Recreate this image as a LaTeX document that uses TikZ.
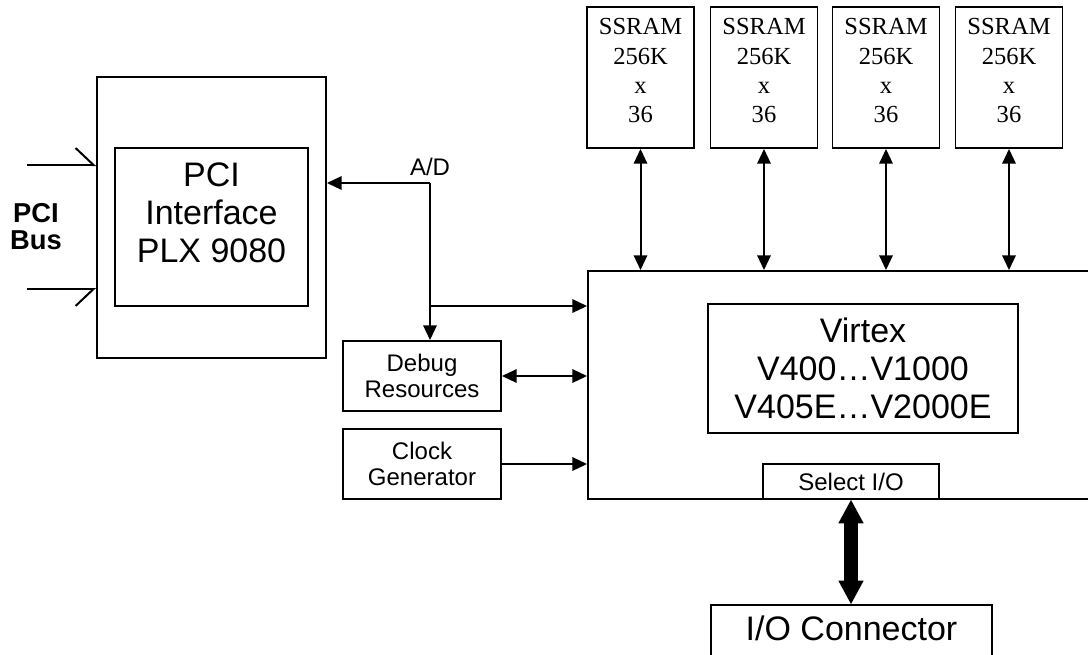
\documentclass[tikz,border=0pt]{standalone}
\usepackage{fontspec}
\setmainfont{Liberation Serif}
\setsansfont{Liberation Sans}
\usepackage{tikz}
\usetikzlibrary{positioning, arrows.meta}

\begin{document}
\begin{tikzpicture}[
  x=0.75pt, y=-0.75pt, line width=1.5pt,
  every node/.style={font=\sffamily},
  box/.style={draw, line width=1.4pt, inner sep=0pt, align=center},
  bigtext/.style={font=\sffamily\fontsize{25.5}{28.5}\selectfont},
  smalltext/.style={font=\sffamily\fontsize{18}{19.5}\selectfont},
  ramtext/.style={font=\rmfamily\fontsize{18.4}{22}\selectfont},
  ssram/.style={box, minimum width=80.25pt, minimum height=105.75pt},
  arr/.style={-{Triangle[length=11pt, width=10pt]}},
  biarr/.style={{Triangle[length=11pt, width=10pt]}-{Triangle[length=11pt, width=10pt]}},
  busin/.style={-{Straight Barb[harpoon, length=13.5pt, width=25.5pt]}},
  businb/.style={-{Straight Barb[harpoon, swap, length=13.5pt, width=25.5pt]}},
  fatarr/.style={line width=10.5pt,
    {Triangle[length=17.5pt, width=19pt, line width=0pt]}-{Triangle[length=17.5pt, width=19pt, line width=0pt]}}
]
  \useasboundingbox (0,0) rectangle (1088,654);
  \clip (0,0) rectangle (1088,654);

  % PCI side
  \node[box, minimum width=171.75pt, minimum height=210.75pt] (pcibox) at (211.5,217.5) {};
  \node[box, minimum width=144.75pt, minimum height=118.5pt,
    label={[bigtext, align=center, yshift=10.5pt]center:PCI\\Interface\\PLX 9080}]
    (pciif) at (211.5,227) {};
  \node[font=\sffamily\bfseries\fontsize{20.5}{20}\selectfont, align=center]
    (pcibus) at (36,226.5) {PCI\\Bus};
  \coordinate (busA) at (27,165);
  \coordinate (busB) at (27,289);

  % Debug + clock
  \node[box, smalltext, minimum width=118.5pt, minimum height=52.5pt] (debug)
    at (422,376) {Debug\\Resources};
  \node[box, smalltext, minimum width=118.5pt, minimum height=52.5pt] (clock)
    at (422,464) {Clock\\Generator};

  % FPGA
  \node[box, minimum width=384pt, minimum height=171pt] (fpga) at (844,385) {};
  \node[box, bigtext, minimum width=232.5pt, minimum height=96.75pt] (virtex)
    at (863,368.5) {Virtex\\V400…V1000\\V405E…V2000E};
  \node[box, smalltext, minimum width=132pt, minimum height=26.25pt] (selio)
    at (851,481.5) {Select I/O};

  % I/O connector
  \node[box, bigtext, minimum width=210.75pt, text height=19pt, text depth=40pt,
    inner ysep=8pt, anchor=north] (ioconn) at (851.5,604) {I/O Connector};

  % SSRAMs
  \node[ssram, label={[ramtext, align=center, yshift=4.9pt]center:SSRAM\\256K\\x\\36}]
    (ram1) at (640.5,77.5) {};
  \node[ssram, label={[ramtext, align=center, yshift=4.9pt]center:SSRAM\\256K\\x\\36}]
    (ram2) at (764,77.5) {};
  \node[ssram, label={[ramtext, align=center, yshift=4.9pt]center:SSRAM\\256K\\x\\36}]
    (ram3) at (886,77.5) {};
  \node[ssram, label={[ramtext, align=center, yshift=4.9pt]center:SSRAM\\256K\\x\\36}]
    (ram4) at (1009,77.5) {};

  % A/D bus
  \coordinate (adj) at (430,183);
  \coordinate (adbr) at (430,306);
  \node[smalltext] (adlbl) at (430,167) {A/D};

  % Arrows
  \draw[busin] (busA) -- (busA -| pcibox.west);
  \draw[businb] (busB) -- (busB -| pcibox.west);
  \draw[arr] (adj) -- (adj -| pcibox.east);
  \draw[arr] (adj) -- (adj |- debug.north);
  \draw[arr] (adbr) -- (adbr -| fpga.west);
  \draw[biarr] (debug.east) -- (debug.east -| fpga.west);
  \draw[arr] (clock.east) -- (clock.east -| fpga.west);
  \draw[biarr] (ram1.south) -- (ram1.south |- fpga.north);
  \draw[biarr] (ram2.south) -- (ram2.south |- fpga.north);
  \draw[biarr] (ram3.south) -- (ram3.south |- fpga.north);
  \draw[biarr] (ram4.south) -- (ram4.south |- fpga.north);
  \draw[fatarr] (selio.south) -- (selio.south |- ioconn.north);
\end{tikzpicture}
\end{document}
